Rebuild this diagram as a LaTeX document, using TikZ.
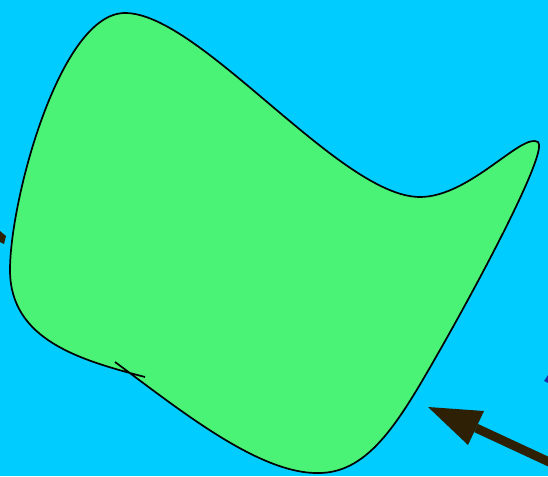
\documentclass[tikz,border=0pt]{standalone}
\definecolor{bgc}{RGB}{0,204,255}
\definecolor{blob}{RGB}{74,242,117}
\definecolor{arr}{RGB}{45,32,5}
\definecolor{tipblue}{RGB}{20,50,170}
\begin{document}
\begin{tikzpicture}[x=1pt,y=-1pt,
  outline/.style={draw=black,line width=1.7pt},
  arrowshaft/.style={draw=arr,line width=9pt}]
\fill[bgc] (0,0) rectangle (548,476);
\useasboundingbox (0,0) rectangle (548,476);
\begin{scope}
\clip (0,0) rectangle (548,476);
% blob fill
\fill[blob] (115,362) .. controls (180,410) and (260,475) .. (320,473)
  .. controls (370,472) and (400,420) .. (440,350)
  .. controls (490,262) and (548,150) .. (538,142)
  .. controls (522,132) and (470,197) .. (420,197)
  .. controls (340,197) and (200,13) .. (125,13)
  .. controls (60,13) and (10,200) .. (10,270)
  .. controls (10,340) and (80,360) .. (145,377) -- cycle;
% blob outline (open, ends overlap)
\draw[outline] (115,362) .. controls (180,410) and (260,475) .. (320,473)
  .. controls (370,472) and (400,420) .. (440,350)
  .. controls (490,262) and (548,150) .. (538,142)
  .. controls (522,132) and (470,197) .. (420,197)
  .. controls (340,197) and (200,13) .. (125,13)
  .. controls (60,13) and (10,200) .. (10,270)
  .. controls (10,340) and (80,360) .. (145,377);
% big arrow
\coordinate (tail) at (575,474);
\coordinate (base) at (476,428);
\coordinate (tip) at (428,407);
\draw[arrowshaft] (tail) -- (base);
\fill[arr] (tip) -- (484,411) -- (468,445) -- cycle;
% small arrow tip fragments at the edges
\fill[arr] (0,231) -- (6,236) -- (4,244) -- (0,242) -- cycle;
\fill[tipblue] (544,381) -- (548,375) -- (548,383) -- cycle;
\end{scope}
\end{tikzpicture}
\end{document}
